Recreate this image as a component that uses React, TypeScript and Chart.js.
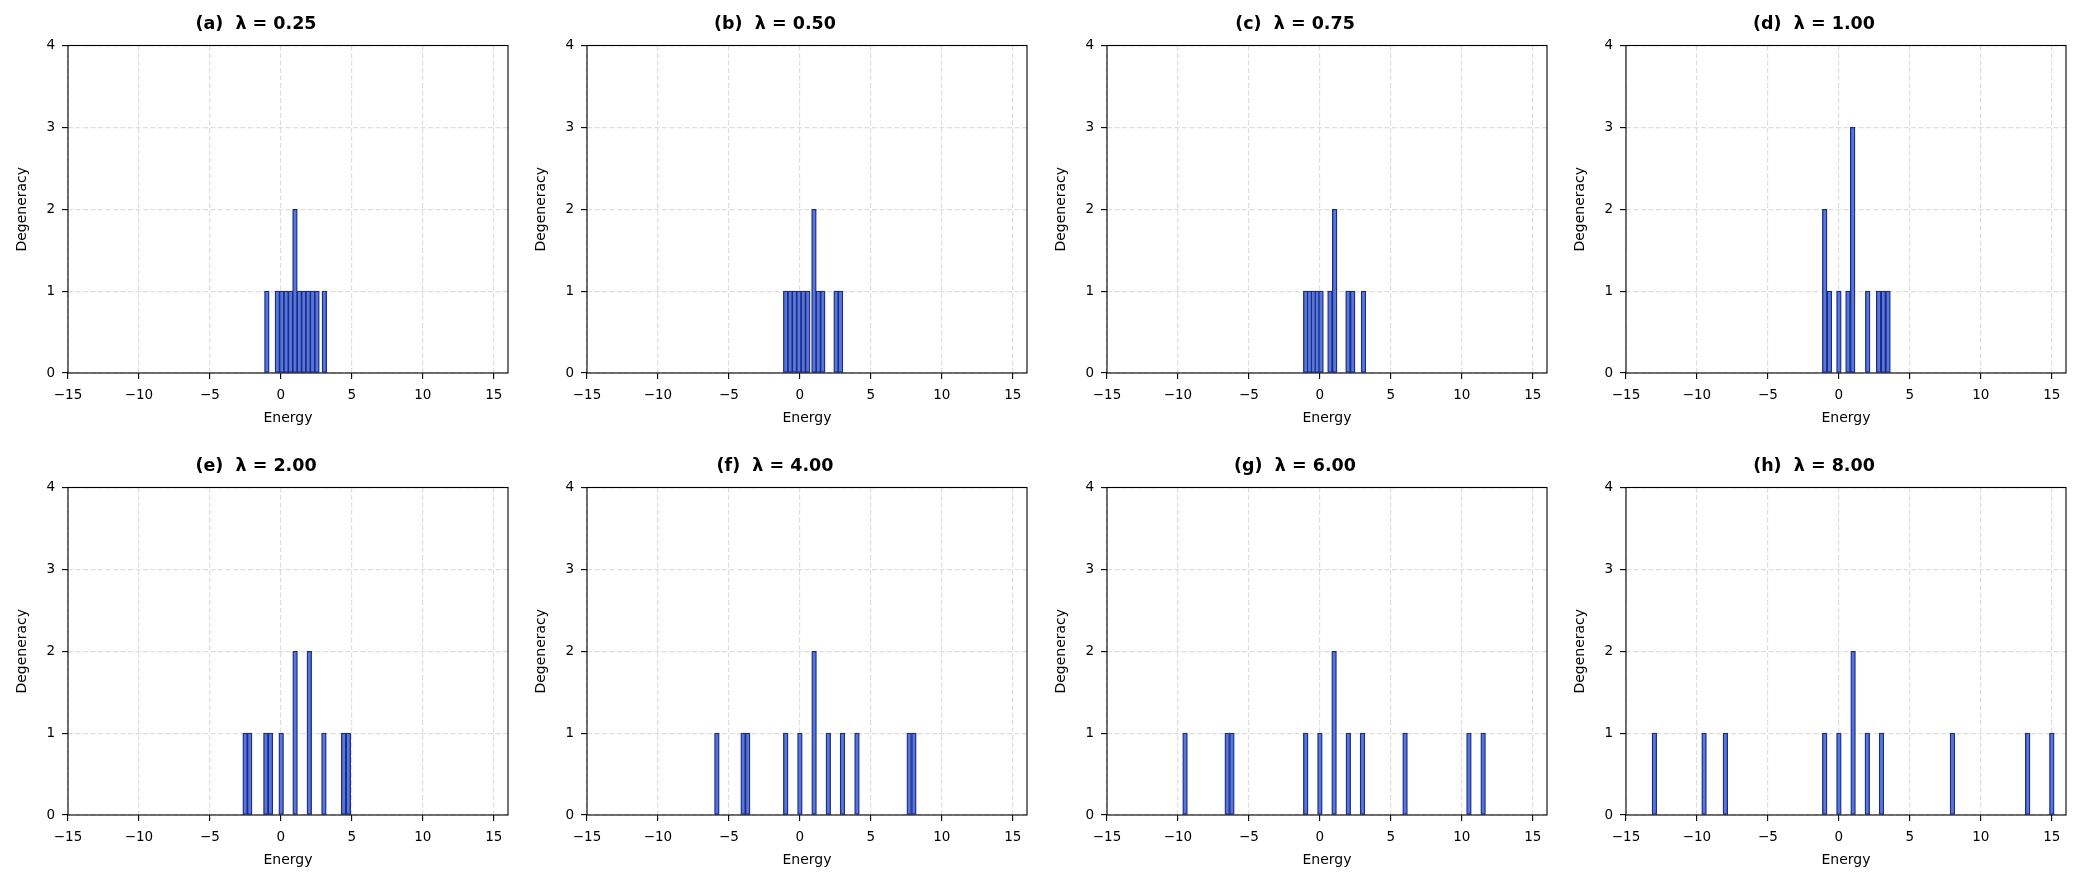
import React, { useEffect, useRef } from "react";
import { Chart } from "chart.js/auto";

// one panel per λ value
const panelTitles = [
  "(a)  λ = 0.25",
  "(b)  λ = 0.50",
  "(c)  λ = 0.75",
  "(d)  λ = 1.00",
  "(e)  λ = 2.00",
  "(f)  λ = 4.00",
  "(g)  λ = 6.00",
  "(h)  λ = 8.00",
];

// bar centres (energy) and heights (degeneracy)
const energiesA = [-0.99, -0.25, 0.06, 0.37, 0.68, 0.99, 1.3, 1.61, 1.92, 2.23, 2.54, 3.06];
const countsA = [1, 1, 1, 1, 1, 2, 1, 1, 1, 1, 1, 1];

const energiesB = [-1.0, -0.69, -0.38, -0.07, 0.24, 0.55, 0.99, 1.3, 1.61, 2.55, 2.86];
const countsB = [1, 1, 1, 1, 1, 1, 2, 1, 1, 1, 1];

const energiesC = [-1.0, -0.73, -0.46, -0.19, 0.08, 0.71, 1.04, 1.98, 2.31, 3.07];
const countsC = [1, 1, 1, 1, 1, 1, 2, 1, 1, 1];

const energiesD = [-1.0, -0.67, 0.0, 0.64, 0.97, 2.03, 2.8, 3.13, 3.46];
const countsD = [2, 1, 1, 1, 3, 1, 1, 1, 1];

const energiesE = [-2.52, -2.2, -1.06, -0.74, 0.02, 1.0, 2.0, 3.03, 4.42, 4.75];
const countsE = [1, 1, 1, 1, 1, 2, 2, 1, 1, 1];

const energiesF = [-5.85, -4.0, -3.68, -1.0, 0.0, 1.0, 2.0, 3.0, 4.02, 7.7, 8.03];
const countsF = [1, 1, 1, 1, 1, 2, 1, 1, 1, 1, 1];

const energiesG = [-9.5, -6.53, -6.2, -1.0, 0.0, 1.0, 2.0, 3.0, 6.0, 10.5, 11.5];
const countsG = [1, 1, 1, 1, 1, 2, 1, 1, 1, 1, 1];

const energiesH = [-13.0, -9.5, -8.0, -1.0, 0.0, 1.0, 2.0, 3.0, 8.0, 13.3, 15.0];
const countsH = [1, 1, 1, 1, 1, 2, 1, 1, 1, 1, 1];

const panelEnergies = [energiesA, energiesB, energiesC, energiesD, energiesE, energiesF, energiesG, energiesH];
const panelCounts = [countsA, countsB, countsC, countsD, countsE, countsF, countsG, countsH];

const xTicks = [-15, -10, -5, 0, 5, 10, 15];
const yTicks = [0, 1, 2, 3, 4];
const X_MIN = -15;
const X_MAX = 16;
const BIN = 0.33;

const FONT = '"DejaVu Sans", sans-serif';
const FILL = "#5677d6";
const EDGE = "#1b2a8c";
const GRID = "#dedede";

const CW = 568;
const CH = 442;
const AXIS_W = 64;

const minus = (v: number) => (v < 0 ? "\u2212" + Math.abs(v) : String(v));

const framePlugin = {
  id: "frame",
  afterDatasetsDraw(chart: any) {
    const { ctx, chartArea } = chart;
    ctx.save();
    ctx.strokeStyle = "#000";
    ctx.lineWidth = 1.1;
    ctx.strokeRect(chartArea.left, chartArea.top, chartArea.right - chartArea.left, chartArea.bottom - chartArea.top);
    ctx.restore();
  },
};

type PanelProps = {
  title: string;
  energies: number[];
  counts: number[];
  left: number;
  top: number;
};

const Panel: React.FC<PanelProps> = ({ title, energies, counts, left, top }) => {
  const canvasRef = useRef<HTMLCanvasElement>(null);

  useEffect(() => {
    if (!canvasRef.current) return;
    const chart = new Chart(canvasRef.current, {
      type: "bar",
      data: {
        datasets: [
          {
            data: energies.map((e, i) => ({ x: e, y: counts[i] })),
            backgroundColor: FILL,
            borderColor: EDGE,
            borderWidth: 1.3,
            borderSkipped: false,
            barThickness: (c: any) => {
              const s = c.chart.scales.x;
              if (!s) return (440 / (X_MAX - X_MIN)) * BIN;
              return Math.abs(s.getPixelForValue(BIN) - s.getPixelForValue(0));
            },
          } as any,
        ],
      },
      options: {
        responsive: false,
        animation: false,
        layout: { padding: { left: 0, right: AXIS_W, top: 0, bottom: 0 } },
        plugins: {
          legend: { display: false },
          tooltip: { enabled: false },
          title: {
            display: true,
            text: title,
            color: "#000",
            font: { family: FONT, size: 17.5, weight: "bold" },
            padding: { top: 14, bottom: 10.5 },
          },
        },
        scales: {
          x: {
            type: "linear",
            min: X_MIN,
            max: X_MAX,
            offset: false,
            afterBuildTicks: (s: any) => {
              s.ticks = xTicks.map((v) => ({ value: v }));
            },
            afterFit: (s: any) => {
              s.height = 69;
            },
            grid: {
              color: GRID,
              lineWidth: 1.2,
              offset: false,
              tickLength: 6,
              tickColor: "#000",
              tickWidth: 1.1,
              tickBorderDash: [],
            },
            border: { display: false, dash: [5, 2.5] },
            ticks: {
              color: "#000",
              font: { family: FONT, size: 13.5 },
              padding: 8,
              maxRotation: 0,
              autoSkip: false,
              callback: (v: any) => minus(Number(v)),
            },
            title: {
              display: true,
              text: "Energy",
              color: "#000",
              font: { family: FONT, size: 14 },
              padding: { top: 4, bottom: 15 },
            },
          },
          y: {
            min: 0,
            max: 4,
            afterBuildTicks: (s: any) => {
              s.ticks = yTicks.map((v) => ({ value: v }));
            },
            afterFit: (s: any) => {
              s.width = AXIS_W;
            },
            grid: {
              color: GRID,
              lineWidth: 1.2,
              tickLength: 6,
              tickColor: "#000",
              tickWidth: 1.1,
              tickBorderDash: [],
            },
            border: { display: false, dash: [5, 2.5] },
            ticks: {
              color: "#000",
              font: { family: FONT, size: 13.5 },
              padding: 7,
              callback: (v: any) => String(v),
            },
            title: {
              display: true,
              text: "Degeneracy",
              color: "#000",
              font: { family: FONT, size: 14 },
              padding: { top: 9.5, bottom: 4 },
            },
          },
        },
      } as any,
      plugins: [framePlugin],
    });

    return () => {
      chart.destroy();
    };
  }, []);

  return (
    <canvas
      ref={canvasRef}
      width={CW}
      height={CH}
      style={{ position: "absolute", left, top, width: CW, height: CH }}
    />
  );
};

export default function App() {
  return (
    <div style={{ position: "absolute", left: 0, top: 0, width: 2084, height: 885, background: "#fff", overflow: "hidden" }}>
      {panelTitles.map((t, i) => (
        <Panel
          key={t}
          title={t}
          energies={panelEnergies[i]}
          counts={panelCounts[i]}
          left={4 + 519.4 * (i % 4)}
          top={CH * Math.floor(i / 4)}
        />
      ))}
    </div>
  );
}
